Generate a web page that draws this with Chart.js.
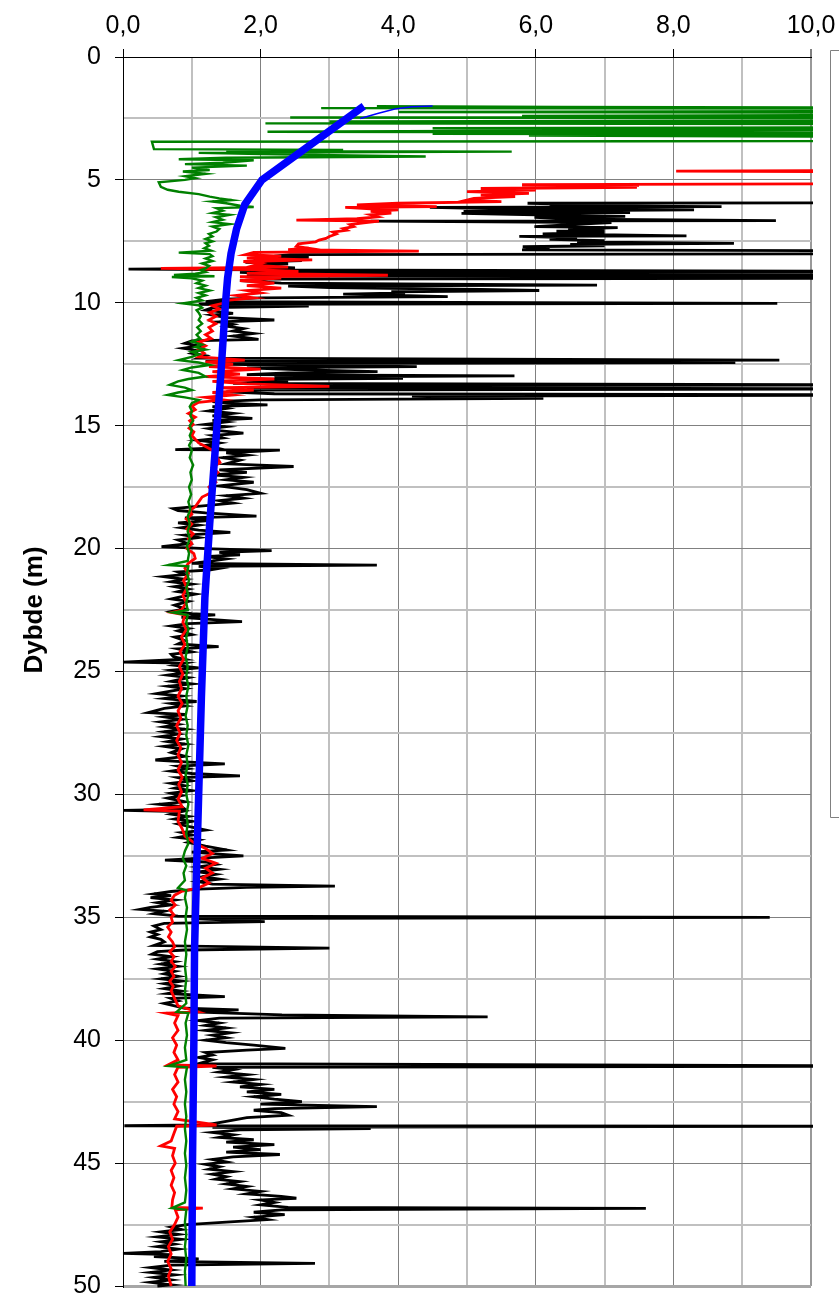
<!DOCTYPE html>
<html><head><meta charset="utf-8">
<script src="https://cdn.jsdelivr.net/npm/chart.js@4.4.1/dist/chart.umd.min.js"></script>
<style>html,body{margin:0;padding:0;background:#fff;}#wrap{position:relative;width:839px;height:1295px;}</style>
</head><body><div id="wrap"><canvas id="c" width="839" height="1295"></canvas></div>
<script>
// ---- labels ----
const xTickLabels = ['0,0','2,0','4,0','6,0','8,0','10,0'];
const yTickLabels = ['0','5','10','15','20','25','30','35','40','45','50'];
const yAxisTitle = 'Dybde (m)';

// ---- series: [depth (m), value] ----
const blueThick = [[2.0,3.5],[5.0,2.02],[6.0,1.77],[7.0,1.65],[8.0,1.57],[9.0,1.52],[10.0,1.49],[13.0,1.42],[16.0,1.34],[19.0,1.26],[22.0,1.19],[26.0,1.14],[30.0,1.1],[33.0,1.07],[36.3,1.04],[40.0,1.03],[45.0,1.01],[50.0,1.0]];
const blueThin = [[2.5,3.45],[2.3,3.7],[2.12,3.95],[2.02,4.2],[1.99,4.5]];

const green = [[2.0,3.69],[2.03,6.37],[2.06,12],[2.08,2.88],[2.1,12],[2.2,12],[2.24,4.0],[2.27,12],[2.35,12],[2.4,5.8],[2.43,12],[2.46,2.43],[2.5,12],[2.58,12],[2.62,3.0],[2.65,12],[2.7,2.07],[2.74,12],[2.86,12],[2.9,4.5],[2.94,12],[3.04,2.1],[3.08,12],[3.12,4.5],[3.16,12],[3.2,5.9],[3.25,12],[3.42,12],[3.43,7.6],[3.45,0.42],[3.75,0.45],[3.78,3.2],[3.82,1.5],[3.85,5.65],[3.9,1.1],[3.95,2.0],[4.05,4.4],[4.1,1.5],[4.16,0.81],[4.2,1.9],[4.3,1.45],[4.36,0.9],[4.42,1.8],[4.5,1.0],[4.6,1.26],[4.66,0.87],[4.75,1.2],[4.85,0.9],[4.93,1.05],[5.0,0.9],[5.1,0.52],[5.28,0.55],[5.4,0.65],[5.48,0.81],[5.58,1.1],[5.68,1.26],[5.75,1.4],[5.82,1.58],[5.88,1.3],[5.95,1.5],[6.05,1.7],[6.1,1.9],[6.15,1.36],[6.25,1.45],[6.35,1.3],[6.42,1.55],[6.52,1.35],[6.62,1.45],[6.72,1.3],[6.8,1.55],[6.9,1.3],[7.0,1.4],[7.1,1.36],[7.2,1.25],[7.3,1.3],[7.4,1.2],[7.5,1.3],[7.58,1.2],[7.68,1.25],[7.78,1.18],[7.88,1.28],[7.96,0.81],[8.02,1.26],[8.1,1.3],[8.2,1.2],[8.3,1.3],[8.4,1.15],[8.5,1.25],[8.6,1.2],[8.67,1.13],[8.75,1.2],[8.82,1.05],[8.87,0.74],[8.92,1.33],[8.95,0.71],[9.0,1.0],[9.1,1.15],[9.2,1.07],[9.3,1.2],[9.4,1.1],[9.5,1.26],[9.6,1.1],[9.7,1.2],[9.8,1.07],[9.9,1.15],[10.02,0.87],[10.1,1.1],[10.2,1.15],[10.3,1.07],[10.4,1.1],[10.55,1.13],[10.7,1.1],[10.85,1.15],[11.0,1.08],[11.15,1.13],[11.3,1.07],[11.45,1.12],[11.58,1.0],[11.7,1.15],[11.8,1.05],[11.9,1.2],[12.0,1.0],[12.1,1.1],[12.2,1.0],[12.33,0.81],[12.43,1.1],[12.53,1.26],[12.63,1.0],[12.73,0.87],[12.85,1.1],[13.0,1.2],[13.1,0.95],[13.2,0.8],[13.34,0.68],[13.45,0.9],[13.55,1.0],[13.65,0.8],[13.75,0.65],[13.85,0.9],[13.95,1.1],[14.08,1.0],[14.22,0.97],[14.4,1.0],[14.6,0.98],[14.8,1.02],[15.0,0.97],[15.2,1.0],[15.4,0.97],[15.6,1.0],[15.8,0.96],[16.0,1.0],[16.3,0.97],[16.6,1.02],[16.9,0.98],[17.2,1.0],[17.5,0.96],[17.8,0.99],[18.1,0.95],[18.4,0.98],[18.7,0.94],[19.0,0.97],[19.3,0.94],[19.6,0.97],[19.9,0.93],[20.2,0.96],[20.5,0.94],[20.67,0.66],[20.72,0.95],[21.0,0.93],[21.3,0.96],[21.6,0.92],[21.9,0.95],[22.2,0.92],[22.5,0.94],[22.6,0.73],[22.7,0.94],[23.0,0.92],[23.3,0.95],[23.6,0.92],[24.0,0.94],[24.4,0.91],[24.8,0.94],[25.2,0.92],[25.6,0.95],[26.0,0.92],[26.4,0.94],[26.8,0.91],[27.2,0.94],[27.6,0.92],[28.0,0.95],[28.4,0.92],[28.8,0.94],[29.2,0.91],[29.6,0.94],[30.0,0.92],[30.4,0.95],[30.8,0.92],[31.2,0.94],[31.6,0.92],[32.0,0.95],[32.3,0.9],[32.6,0.87],[32.9,0.92],[33.2,0.88],[33.5,0.9],[33.8,0.8],[33.9,0.92],[34.2,0.9],[34.6,0.93],[35.0,0.91],[35.5,0.93],[36.0,0.9],[36.5,0.92],[37.0,0.9],[37.5,0.92],[38.0,0.9],[38.5,0.92],[38.85,0.78],[38.9,0.95],[39.3,0.91],[39.8,0.93],[40.3,0.9],[40.8,0.92],[41.05,0.66],[41.1,0.93],[41.6,0.9],[42.1,0.92],[42.6,0.9],[43.1,0.92],[43.6,0.9],[44.1,0.92],[44.6,0.9],[45.1,0.92],[45.6,0.9],[46.1,0.92],[46.6,0.9],[46.83,0.71],[46.9,0.92],[47.4,0.9],[47.9,0.92],[48.4,0.9],[48.9,0.92],[49.4,0.9],[50.0,0.91]];

const red = [[4.6,12],[4.64,8.04],[4.68,12],[5.15,12],[5.19,5.8],[5.22,7.5],[5.25,5.8],[5.3,7.47],[5.35,5.2],[5.42,6.0],[5.48,5.0],[5.55,5.9],[5.62,5.2],[5.68,5.7],[5.75,5.1],[5.82,5.0],[5.88,5.5],[5.95,4.0],[6.02,3.4],[6.09,4.56],[6.12,3.23],[6.18,3.6],[6.22,4.0],[6.28,3.6],[6.35,3.9],[6.42,3.6],[6.5,3.7],[6.58,3.4],[6.64,2.52],[6.68,3.72],[6.75,3.5],[6.82,3.3],[6.9,3.35],[6.98,3.2],[7.05,3.25],[7.12,3.05],[7.2,3.1],[7.3,3.0],[7.38,2.95],[7.45,2.85],[7.52,2.8],[7.6,2.55],[7.7,2.52],[7.78,2.7],[7.84,2.4],[7.9,4.3],[7.95,1.9],[8.04,1.78],[8.1,2.3],[8.18,1.8],[8.25,2.75],[8.32,1.75],[8.4,2.0],[8.48,1.9],[8.55,2.4],[8.6,0.55],[8.65,1.9],[8.72,2.55],[8.8,1.8],[8.88,3.85],[8.94,1.7],[9.0,2.3],[9.1,1.7],[9.2,2.2],[9.3,1.8],[9.4,2.3],[9.5,1.8],[9.6,2.0],[9.7,1.65],[9.8,1.9],[9.9,1.5],[10.02,1.45],[10.12,1.3],[10.25,1.4],[10.4,1.26],[10.55,1.35],[10.7,1.25],[10.85,1.35],[11.0,1.25],[11.15,1.3],[11.3,1.2],[11.45,1.28],[11.6,1.1],[11.75,1.2],[11.9,1.1],[12.05,1.18],[12.2,1.1],[12.33,1.77],[12.4,1.2],[12.5,1.6],[12.6,1.25],[12.7,2.0],[12.8,1.3],[12.9,1.7],[13.0,1.2],[13.1,2.2],[13.2,1.3],[13.3,1.8],[13.4,3.0],[13.45,1.4],[13.55,1.9],[13.65,1.3],[13.75,1.6],[13.85,1.2],[13.95,1.45],[14.05,1.1],[14.2,1.0],[14.35,1.05],[14.5,0.95],[14.65,1.05],[14.8,0.97],[14.95,1.02],[15.1,0.96],[15.25,1.03],[15.4,1.0],[15.55,1.05],[15.7,1.1],[15.85,1.2],[16.0,1.3],[16.2,1.35],[16.5,1.41],[16.7,1.3],[16.9,1.38],[17.1,1.3],[17.3,1.35],[17.5,1.25],[17.7,1.3],[17.9,1.15],[18.1,1.1],[18.3,1.05],[18.45,0.97],[18.6,1.0],[18.8,0.92],[19.0,1.0],[19.2,0.93],[19.4,1.02],[19.6,0.95],[19.8,1.0],[20.0,0.93],[20.2,1.03],[20.4,1.05],[20.6,0.95],[20.8,0.9],[21.0,0.95],[21.3,0.88],[21.6,0.93],[21.9,0.87],[22.2,0.92],[22.5,0.85],[22.6,0.71],[22.7,0.9],[23.0,0.87],[23.3,0.92],[23.6,0.85],[23.9,0.9],[24.2,0.83],[24.5,0.88],[24.8,0.82],[25.1,0.87],[25.4,0.82],[25.7,0.85],[26.0,0.8],[26.3,0.86],[26.6,0.8],[26.9,0.84],[27.2,0.78],[27.5,0.83],[27.8,0.78],[28.1,0.84],[28.4,0.8],[28.7,0.85],[29.0,0.8],[29.3,0.86],[29.6,0.81],[29.9,0.85],[30.2,0.8],[30.5,0.86],[30.63,0.3],[30.68,0.82],[31.1,0.8],[31.4,0.86],[31.7,0.9],[32.0,1.05],[32.2,1.2],[32.4,1.3],[32.6,1.15],[32.8,1.35],[33.0,1.2],[33.2,1.3],[33.4,1.15],[33.6,1.25],[33.8,1.1],[33.95,0.85],[34.1,0.75],[34.3,0.7],[34.5,0.76],[34.7,0.68],[34.9,0.74],[35.0,0.7],[35.2,0.72],[35.4,0.65],[35.6,0.7],[35.8,0.66],[36.0,0.72],[36.2,0.75],[36.4,0.68],[36.6,0.74],[36.8,0.7],[37.0,0.76],[37.2,0.7],[37.4,0.74],[37.6,0.68],[37.8,0.73],[38.0,0.7],[38.3,0.75],[38.6,0.8],[38.85,1.09],[38.9,0.63],[39.0,0.8],[39.3,0.75],[39.6,0.8],[39.9,0.72],[40.2,0.78],[40.5,0.74],[40.8,0.8],[41.0,0.66],[41.05,1.36],[41.1,0.8],[41.4,0.75],[41.7,0.8],[42.0,0.72],[42.3,0.78],[42.6,0.74],[42.9,0.8],[43.2,0.75],[43.45,1.36],[43.5,0.78],[43.8,0.74],[44.1,0.7],[44.3,0.55],[44.4,0.75],[44.7,0.72],[45.0,0.76],[45.3,0.7],[45.6,0.74],[45.9,0.7],[46.2,0.75],[46.5,0.72],[46.8,0.71],[46.83,1.16],[46.9,0.76],[47.2,0.8],[47.5,0.75],[47.8,0.68],[48.1,0.72],[48.4,0.66],[48.7,0.7],[49.0,0.65],[49.3,0.7],[49.6,0.66],[50.0,0.7]];

const black = [[2.58,12],[2.64,9.67],[2.68,12],[5.93,12],[5.95,5.88],[6.0,6.8],[6.05,6.2],[6.09,8.7],[6.12,4.46],[6.18,5.5],[6.22,8.3],[6.28,4.95],[6.33,7.37],[6.36,4.92],[6.42,6.0],[6.48,7.3],[6.52,5.98],[6.6,6.6],[6.66,9.49],[6.68,3.6],[6.74,7.1],[6.82,6.5],[6.9,5.98],[6.94,7.19],[7.0,6.47],[7.04,7.0],[7.08,6.3],[7.14,7.0],[7.2,6.1],[7.28,8.19],[7.3,5.76],[7.36,6.6],[7.42,6.2],[7.47,7.0],[7.52,6.6],[7.58,8.88],[7.62,6.5],[7.68,7.0],[7.72,5.81],[7.78,6.2],[7.85,5.8],[7.89,12],[8.0,12],[8.04,2.43],[8.1,2.2],[8.15,2.7],[8.2,1.9],[8.28,2.6],[8.35,1.78],[8.42,2.4],[8.5,1.9],[8.58,2.5],[8.63,0.08],[8.66,2.0],[8.72,12],[8.76,1.7],[8.82,2.3],[8.86,12],[8.88,12],[8.9,1.8],[8.95,12],[9.0,12],[9.04,2.1],[9.1,1.7],[9.2,2.3],[9.28,6.89],[9.32,2.4],[9.38,3.0],[9.41,3.85],[9.45,5.2],[9.5,6.05],[9.55,3.9],[9.6,4.1],[9.65,3.2],[9.7,4.0],[9.75,4.72],[9.8,2.0],[9.85,1.5],[9.95,1.2],[10.02,9.51],[10.06,1.1],[10.13,2.7],[10.2,1.3],[10.3,1.2],[10.43,1.6],[10.5,1.3],[10.6,1.5],[10.7,2.2],[10.78,1.4],[10.88,1.6],[10.95,1.5],[11.05,1.75],[11.15,1.6],[11.25,1.9],[11.35,1.6],[11.49,1.97],[11.55,1.0],[11.65,0.9],[11.75,1.1],[11.85,0.87],[11.95,1.1],[12.05,1.0],[12.15,1.2],[12.25,1.1],[12.33,9.54],[12.38,1.2],[12.43,8.9],[12.47,2.0],[12.5,1.5],[12.6,4.27],[12.65,1.8],[12.72,2.5],[12.8,3.7],[12.85,2.4],[12.92,1.8],[12.97,5.69],[13.02,2.2],[13.07,4.07],[13.12,1.7],[13.2,2.4],[13.28,1.6],[13.34,12],[13.38,2.5],[13.45,1.8],[13.5,12],[13.55,2.0],[13.62,1.5],[13.7,2.2],[13.75,12],[13.8,4.2],[13.89,6.11],[13.95,2.0],[14.02,1.3],[14.08,1.5],[14.15,2.1],[14.22,1.3],[14.3,1.5],[14.4,1.25],[14.5,1.6],[14.6,1.3],[14.7,1.88],[14.78,1.3],[14.85,1.5],[14.95,1.2],[15.04,1.49],[15.12,1.25],[15.2,1.4],[15.3,1.75],[15.4,1.3],[15.5,1.45],[15.6,1.1],[15.7,1.4],[15.8,1.2],[15.9,1.35],[15.97,0.76],[15.99,2.28],[16.1,1.5],[16.2,1.8],[16.3,1.45],[16.4,1.7],[16.55,1.5],[16.66,2.48],[16.8,1.4],[16.9,1.8],[17.0,1.3],[17.1,1.75],[17.2,1.5],[17.3,1.9],[17.45,1.4],[17.6,1.8],[17.75,2.0],[17.85,1.5],[17.95,1.75],[18.05,1.4],[18.15,1.6],[18.37,0.73],[18.45,0.8],[18.55,1.2],[18.68,1.94],[18.75,0.9],[18.85,1.3],[18.95,0.8],[19.05,1.1],[19.15,0.85],[19.25,1.1],[19.34,1.56],[19.45,0.9],[19.55,1.1],[19.65,0.8],[19.8,0.95],[19.92,0.56],[20.0,1.2],[20.08,2.16],[20.15,1.4],[20.25,1.7],[20.33,1.2],[20.42,1.5],[20.5,1.3],[20.6,1.0],[20.67,3.69],[20.72,1.1],[20.8,1.4],[20.87,1.25],[20.95,0.8],[21.05,0.9],[21.14,0.59],[21.25,0.9],[21.35,0.7],[21.45,1.0],[21.55,0.75],[21.65,0.95],[21.75,0.8],[21.85,1.05],[21.95,0.85],[22.05,0.7],[22.15,0.95],[22.3,0.75],[22.45,0.9],[22.55,0.72],[22.65,1.0],[22.7,1.34],[22.8,0.85],[22.97,1.73],[23.05,0.95],[23.15,0.7],[23.25,0.95],[23.35,0.8],[23.5,1.0],[23.6,0.75],[23.75,0.9],[23.88,0.8],[23.99,1.39],[24.08,0.8],[24.2,1.0],[24.3,0.7],[24.39,0.73],[24.5,0.9],[24.62,0.0],[24.66,0.9],[24.75,0.75],[24.85,1.1],[24.95,0.7],[25.05,0.9],[25.15,0.65],[25.25,0.95],[25.4,0.7],[25.5,1.0],[25.6,0.65],[25.7,0.9],[25.9,0.49],[26.0,0.85],[26.1,0.6],[26.22,1.07],[26.3,0.7],[26.4,0.9],[26.5,0.6],[26.67,0.37],[26.75,0.9],[26.85,0.6],[26.95,0.85],[27.05,0.55],[27.15,0.8],[27.25,0.6],[27.35,0.9],[27.45,0.6],[27.55,0.8],[27.65,0.55],[27.75,0.85],[27.85,0.65],[27.95,0.9],[28.05,0.6],[28.15,0.85],[28.3,0.7],[28.45,0.9],[28.6,0.47],[28.68,0.9],[28.76,1.48],[28.85,0.8],[28.95,0.95],[29.05,0.7],[29.15,1.0],[29.25,1.7],[29.32,0.8],[29.45,1.0],[29.55,0.7],[29.65,0.9],[29.75,0.75],[29.85,1.0],[29.95,0.7],[30.05,0.85],[30.15,0.65],[30.3,0.9],[30.4,0.52],[30.5,0.85],[30.6,0.9],[30.65,0.01],[30.7,0.85],[30.8,0.7],[30.9,0.95],[31.0,0.75],[31.1,1.0],[31.2,0.8],[31.3,0.95],[31.45,1.2],[31.55,0.85],[31.65,1.0],[31.75,0.8],[31.85,1.1],[31.95,0.95],[32.1,1.2],[32.26,1.51],[32.35,1.0],[32.5,1.75],[32.58,1.2],[32.67,0.61],[32.75,1.2],[32.85,1.35],[32.95,1.1],[33.05,1.4],[33.15,1.1],[33.25,1.35],[33.35,1.15],[33.45,1.4],[33.55,1.1],[33.65,1.3],[33.73,3.08],[33.78,1.8],[33.85,1.1],[33.95,0.7],[34.05,0.45],[34.12,0.7],[34.2,0.4],[34.3,0.75],[34.4,0.5],[34.5,0.7],[34.6,0.4],[34.68,0.25],[34.75,0.6],[34.85,0.45],[34.95,0.8],[35.0,9.4],[35.05,1.0],[35.18,2.06],[35.25,0.6],[35.35,0.45],[35.5,0.55],[35.6,0.4],[35.7,0.5],[35.8,0.4],[35.9,0.55],[36.0,0.6],[36.15,0.45],[36.25,3.0],[36.33,0.9],[36.4,0.5],[36.5,0.42],[36.6,0.7],[36.7,0.5],[36.8,0.75],[36.9,0.55],[37.0,0.8],[37.1,0.5],[37.2,0.75],[37.3,0.6],[37.4,0.8],[37.5,0.55],[37.6,0.85],[37.7,0.6],[37.8,0.8],[37.9,0.6],[38.0,0.85],[38.1,0.65],[38.23,1.48],[38.3,0.7],[38.4,0.8],[38.5,0.6],[38.6,0.75],[38.7,0.9],[38.77,1.68],[38.85,1.0],[38.97,2.31],[39.05,5.3],[39.1,1.4],[39.2,1.1],[39.3,1.4],[39.4,1.2],[39.5,1.5],[39.6,1.2],[39.7,1.56],[39.8,1.3],[39.9,1.5],[40.0,1.2],[40.1,1.5],[40.2,1.9],[40.33,2.36],[40.4,1.8],[40.5,1.2],[40.6,1.3],[40.7,1.1],[40.8,1.3],[40.95,1.1],[41.05,12],[41.1,1.3],[41.2,1.6],[41.3,1.4],[41.4,1.8],[41.5,1.5],[41.6,1.9],[41.7,1.6],[41.8,2.0],[41.9,1.7],[42.0,2.2],[42.1,1.8],[42.2,2.3],[42.3,1.9],[42.4,2.2],[42.5,2.6],[42.6,2.0],[42.7,3.69],[42.78,2.2],[42.85,1.9],[42.95,2.3],[43.05,2.4],[43.15,1.8],[43.3,1.5],[43.45,1.2],[43.48,0.02],[43.5,12],[43.55,1.3],[43.6,3.6],[43.65,1.7],[43.75,1.3],[43.85,1.6],[43.95,1.4],[44.05,1.9],[44.15,1.5],[44.25,2.2],[44.35,1.6],[44.45,2.0],[44.55,1.5],[44.65,2.28],[44.75,1.6],[44.85,1.3],[44.95,1.5],[45.05,1.2],[45.15,1.4],[45.25,1.25],[45.35,1.6],[45.45,1.3],[45.55,1.5],[45.65,1.35],[45.75,1.7],[45.85,1.5],[45.95,1.8],[46.05,1.6],[46.15,2.0],[46.25,1.8],[46.35,2.3],[46.43,2.52],[46.5,2.0],[46.6,2.2],[46.7,2.0],[46.8,2.4],[46.84,7.6],[46.9,2.3],[47.0,1.9],[47.1,2.35],[47.2,1.9],[47.3,2.1],[47.4,1.5],[47.5,0.93],[47.6,0.7],[47.7,0.85],[47.8,0.55],[47.9,0.8],[48.0,0.5],[48.1,0.85],[48.2,0.55],[48.3,0.75],[48.4,0.5],[48.5,0.8],[48.6,0.55],[48.67,0.0],[48.72,0.7],[48.8,0.45],[48.9,1.1],[49.0,0.6],[49.08,2.79],[49.15,0.7],[49.25,0.4],[49.35,0.7],[49.45,0.4],[49.55,0.75],[49.65,0.45],[49.75,0.7],[49.85,0.4],[49.95,0.7],[50.0,0.5]];

// ---- build chart ----
const toXY = arr => arr.map(p => ({x: p[1], y: p[0]}));
const FONT = '"Liberation Sans", Arial, sans-serif';

const extras = {
  id: 'extras',
  afterDraw(chart) {
    const ctx = chart.ctx;
    ctx.save();
    ctx.translate(35, 610);
    ctx.rotate(-Math.PI / 2);
    ctx.font = 'bold 26px ' + FONT;
    ctx.fillStyle = '#000';
    ctx.textAlign = 'center';
    ctx.textBaseline = 'middle';
    ctx.fillText(yAxisTitle, 0, 0);
    ctx.restore();
    ctx.save();
    ctx.strokeStyle = '#808080';
    ctx.lineWidth = 1;
    ctx.beginPath();
    ctx.moveTo(845, 50.5); ctx.lineTo(830.5, 50.5); ctx.lineTo(830.5, 817.5); ctx.lineTo(845, 817.5);
    ctx.stroke();
    ctx.restore();
  }
};

const lineDs = (label, arr, color, w) => ({
  label, data: toXY(arr), showLine: true, borderColor: color, backgroundColor: color,
  borderWidth: w, pointRadius: 0, tension: 0, clip: 2
});

new Chart(document.getElementById('c'), {
  type: 'scatter',
  data: { datasets: [
    lineDs('Blue', blueThick, '#0000ff', 7.5),
    lineDs('Blue thin', blueThin, '#0000ff', 1.5),
    lineDs('Green', green, '#008000', 2.4),
    lineDs('Red', red, '#ff0000', 2.8),
    lineDs('Black', black, '#000000', 2.8)
  ]},
  options: {
    responsive: false, animation: false, devicePixelRatio: 1,
    layout: { padding: { left: 0, right: 28, top: 0, bottom: 9 } },
    plugins: { legend: { display: false }, tooltip: { enabled: false } },
    scales: {
      x: {
        type: 'linear', position: 'top', min: 0, max: 10,
        afterFit: s => { s.height = 57; s.paddingLeft = 0; s.paddingRight = 0; },
        ticks: { stepSize: 1, autoSkip: false, maxRotation: 0, padding: 8, color: '#000',
          font: { family: FONT, size: 25 },
          callback: v => (v % 2 === 0 ? xTickLabels[v / 2] : '') },
        grid: {
          color: c => c.tick.value === 10 ? '#999999' : (c.tick.value % 2 === 0 ? '#808080' : '#c0c0c0'),
          lineWidth: c => c.tick.value === 10 ? 2 : (c.tick.value % 2 === 0 ? 1 : 2),
          tickColor: c => c.tick.value % 2 === 0 ? '#000' : 'rgba(0,0,0,0)',
          tickLength: 8, tickWidth: 1
        },
        border: { display: true, color: '#000', width: 1 }
      },
      y: {
        type: 'linear', reverse: true, min: 0, max: 50,
        afterFit: s => { s.width = 123; s.paddingTop = 0; s.paddingBottom = 0; },
        ticks: { stepSize: 2.5, autoSkip: false, padding: 14, color: '#000',
          font: { family: FONT, size: 25 },
          callback: v => (v % 5 === 0 ? yTickLabels[v / 5] : '') },
        grid: {
          color: c => c.tick.value === 50 ? '#a6a6a6' : (c.tick.value % 5 === 0 ? '#808080' : '#c0c0c0'),
          lineWidth: c => c.tick.value === 50 ? 3 : (c.tick.value % 5 === 0 ? 1 : 2),
          tickColor: c => c.tick.value % 5 === 0 ? '#000' : 'rgba(0,0,0,0)',
          tickLength: 8, tickWidth: 1
        },
        border: { display: true, color: '#000', width: 1 }
      }
    }
  },
  plugins: [extras]
});
</script></body></html>
